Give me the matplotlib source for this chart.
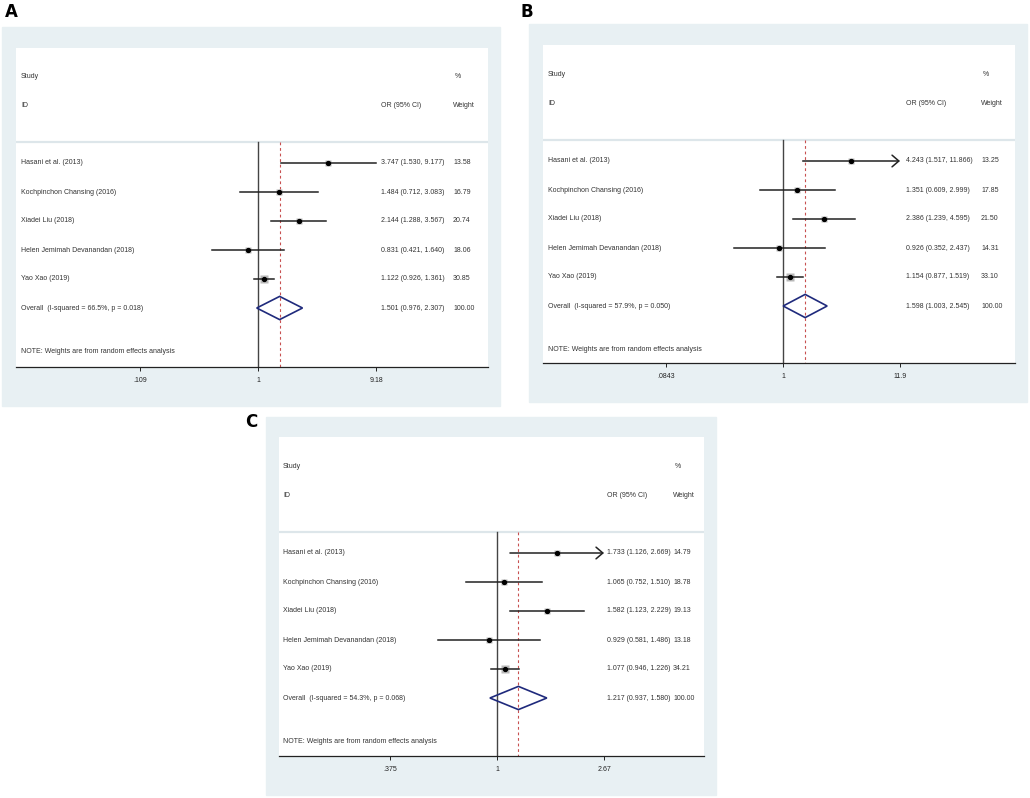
import numpy as np
import matplotlib
matplotlib.use("Agg")
import matplotlib.pyplot as plt
from matplotlib.patches import Rectangle, Polygon

plt.rcParams["font.family"] = ["Liberation Sans", "DejaVu Sans"]

studies = ["Hasani et al. (2013)", "Kochpinchon Chansing (2016)", "Xiadei Liu (2018)",
           "Helen Jemimah Devanandan (2018)", "Yao Xao (2019)"]

# panel A
or_a = [3.747, 1.484, 2.144, 0.831, 1.122]
lo_a = [1.530, 0.712, 1.288, 0.421, 0.926]
hi_a = [9.177, 3.083, 3.567, 1.640, 1.361]
wt_a = [13.58, 16.79, 20.74, 18.06, 30.85]
overall_a = [1.501, 0.976, 2.307, 100.00]
het_a = "Overall  (I-squared = 66.5%, p = 0.018)"
ticks_a = [0.109, 1, 9.18]
ticklab_a = [".109", "1", "9.18"]
arrow_a = [False, False, False, False, False]

# panel B
or_b = [4.243, 1.351, 2.386, 0.926, 1.154]
lo_b = [1.517, 0.609, 1.239, 0.352, 0.877]
hi_b = [11.866, 2.999, 4.595, 2.437, 1.519]
wt_b = [13.25, 17.85, 21.50, 14.31, 33.10]
overall_b = [1.598, 1.003, 2.545, 100.00]
het_b = "Overall  (I-squared = 57.9%, p = 0.050)"
ticks_b = [0.0843, 1, 11.9]
ticklab_b = [".0843", "1", "11.9"]
arrow_b = [True, False, False, False, False]

# panel C
or_c = [1.733, 1.065, 1.582, 0.929, 1.077]
lo_c = [1.126, 0.752, 1.123, 0.581, 0.946]
hi_c = [2.669, 1.510, 2.229, 1.486, 1.226]
wt_c = [14.79, 18.78, 19.13, 13.18, 34.21]
overall_c = [1.217, 0.937, 1.580, 100.00]
het_c = "Overall  (I-squared = 54.3%, p = 0.068)"
ticks_c = [0.375, 1, 2.67]
ticklab_c = [".375", "1", "2.67"]
arrow_c = [True, False, False, False, False]

W, H = 1030, 798
bg_col = "#e8f0f3"
txt_col = "#333333"
line_col = "#222222"
diam_col = "#1f2a7c"
red_col = "#c85050"
fs = 5
row_h = 29.0

fig = plt.figure(figsize=(W / 100, H / 100), dpi=100)


def fx(x):
    return x / W


def fy(y):
    return 1 - y / H


def forest(label, lab_xy, outer, white, row0, null_px, ppd, cols,
           ors, los, his, wts, overall, het, ticks, ticklab, arrows):
    # outer light blue frame
    ox0, oy0, ox1, oy1 = outer
    fig.add_artist(Rectangle((fx(ox0), fy(oy1)), fx(ox1) - fx(ox0), fy(oy0) - fy(oy1),
                             transform=fig.transFigure, color=bg_col, zorder=-10))
    fig.text(fx(lab_xy[0]), fy(lab_xy[1]), label, fontsize=12, fontweight="bold",
             family="DejaVu Sans", ha="left", va="center")

    wx0, wy0, wx1, wy1 = white
    ax = fig.add_axes([fx(wx0), fy(wy1), fx(wx1) - fx(wx0), fy(wy0) - fy(wy1)])
    ax.set_zorder(1)
    ax.set_facecolor("white")
    ax.set_xscale("log")
    ax.set_xlim(10 ** ((wx0 - null_px) / ppd), 10 ** ((wx1 - null_px) / ppd))
    ybot = (wy1 - row0) / row_h
    ytop = (wy0 - row0) / row_h
    ax.set_ylim(ybot, ytop)

    for s in ["top", "left", "right"]:
        ax.spines[s].set_visible(False)
    ax.spines["bottom"].set_linewidth(0.9)
    ax.spines["bottom"].set_color("#222222")
    ax.set_yticks([])
    ax.set_xticks(ticks)
    ax.set_xticklabels(ticklab)
    ax.minorticks_off()
    ax.tick_params(axis="x", length=3, width=0.7, labelsize=fs, pad=4, colors="#222222")

    sep = -0.72
    ax.axhline(sep, color="#dde6ea", lw=1.6, zorder=1)
    ax.plot([1, 1], [sep, ybot], color="#444444", lw=1.0, zorder=2)
    ax.plot([overall[0], overall[0]], [sep, ybot], color=red_col, lw=0.8,
            ls=(0, (2.5, 2.5)), zorder=2)

    tr = ax.get_yaxis_transform()
    c_id, c_or, c_w = [(c - wx0) / (wx1 - wx0) for c in cols]
    ax.text(c_id, -2.97, "Study", transform=tr, fontsize=fs, color=txt_col, va="center")
    ax.text(c_id, -1.97, "ID", transform=tr, fontsize=fs, color=txt_col, va="center")
    ax.text(c_or, -1.97, "OR (95% CI)", transform=tr, fontsize=fs, color=txt_col, va="center")
    ax.text(c_w + 0.003, -2.97, "%", transform=tr, fontsize=fs, color=txt_col, va="center")
    ax.text(c_w, -1.97, "Weight", transform=tr, fontsize=fs, color=txt_col, va="center")

    xmax = ticks[-1]
    for i in range(len(ors)):
        if arrows[i]:
            ax.annotate("", xy=(xmax, i), xytext=(los[i], i),
                        arrowprops=dict(arrowstyle="->,head_length=0.35,head_width=0.3",
                                        lw=1.1, color=line_col, shrinkA=0, shrinkB=0,
                                        mutation_scale=14), zorder=3)
        else:
            ax.plot([los[i], his[i]], [i, i], color=line_col, lw=1.1, zorder=3)
        ax.plot(ors[i], i, marker="s", ms=np.sqrt(wts[i]) * 1.0, color="#b8b8b8",
                mec="none", zorder=2.5)
        ax.plot(ors[i], i, marker="o", ms=2.8, color="black", zorder=4)
        ax.text(c_id, i, studies[i], transform=tr, fontsize=fs, color=txt_col, va="center")
        ax.text(c_or, i, f"{ors[i]:.3f} ({los[i]:.3f}, {his[i]:.3f})", transform=tr,
                fontsize=fs, color=txt_col, va="center")
        ax.text(c_w, i, f"{wts[i]:.2f}", transform=tr, fontsize=fs, color=txt_col, va="center")

    k = len(ors)
    est, lo, hi, tot = overall
    ax.add_patch(Polygon([(lo, k), (est, k - 0.4), (hi, k), (est, k + 0.4)], closed=True,
                         facecolor="none", edgecolor=diam_col, lw=1.2, zorder=4))
    ax.text(c_id, k, het, transform=tr, fontsize=fs, color=txt_col, va="center")
    ax.text(c_or, k, f"{est:.3f} ({lo:.3f}, {hi:.3f})", transform=tr, fontsize=fs,
            color=txt_col, va="center")
    ax.text(c_w, k, f"{tot:.2f}", transform=tr, fontsize=fs, color=txt_col, va="center")
    ax.text(c_id, 6.5, "NOTE: Weights are from random effects analysis", transform=tr,
            fontsize=fs, color=txt_col, va="center")
    return ax


forest("A", (5, 12), (2, 27, 500, 406), (16, 48, 488, 367), 163, 258, 122.6,
       (21, 381, 453), or_a, lo_a, hi_a, wt_a, overall_a, het_a, ticks_a, ticklab_a, arrow_a)
forest("B", (520, 12), (529, 24, 1027, 402), (543, 45, 1015, 363), 161, 783, 108.8,
       (548, 906, 981), or_b, lo_b, hi_b, wt_b, overall_b, het_b, ticks_b, ticklab_b, arrow_b)
forest("C", (245, 422), (266, 417, 716, 795), (279, 437, 704, 756), 553, 497, 250.9,
       (283, 607, 673), or_c, lo_c, hi_c, wt_c, overall_c, het_c, ticks_c, ticklab_c, arrow_c)

fig.savefig("out.png", dpi=100, facecolor="white")
